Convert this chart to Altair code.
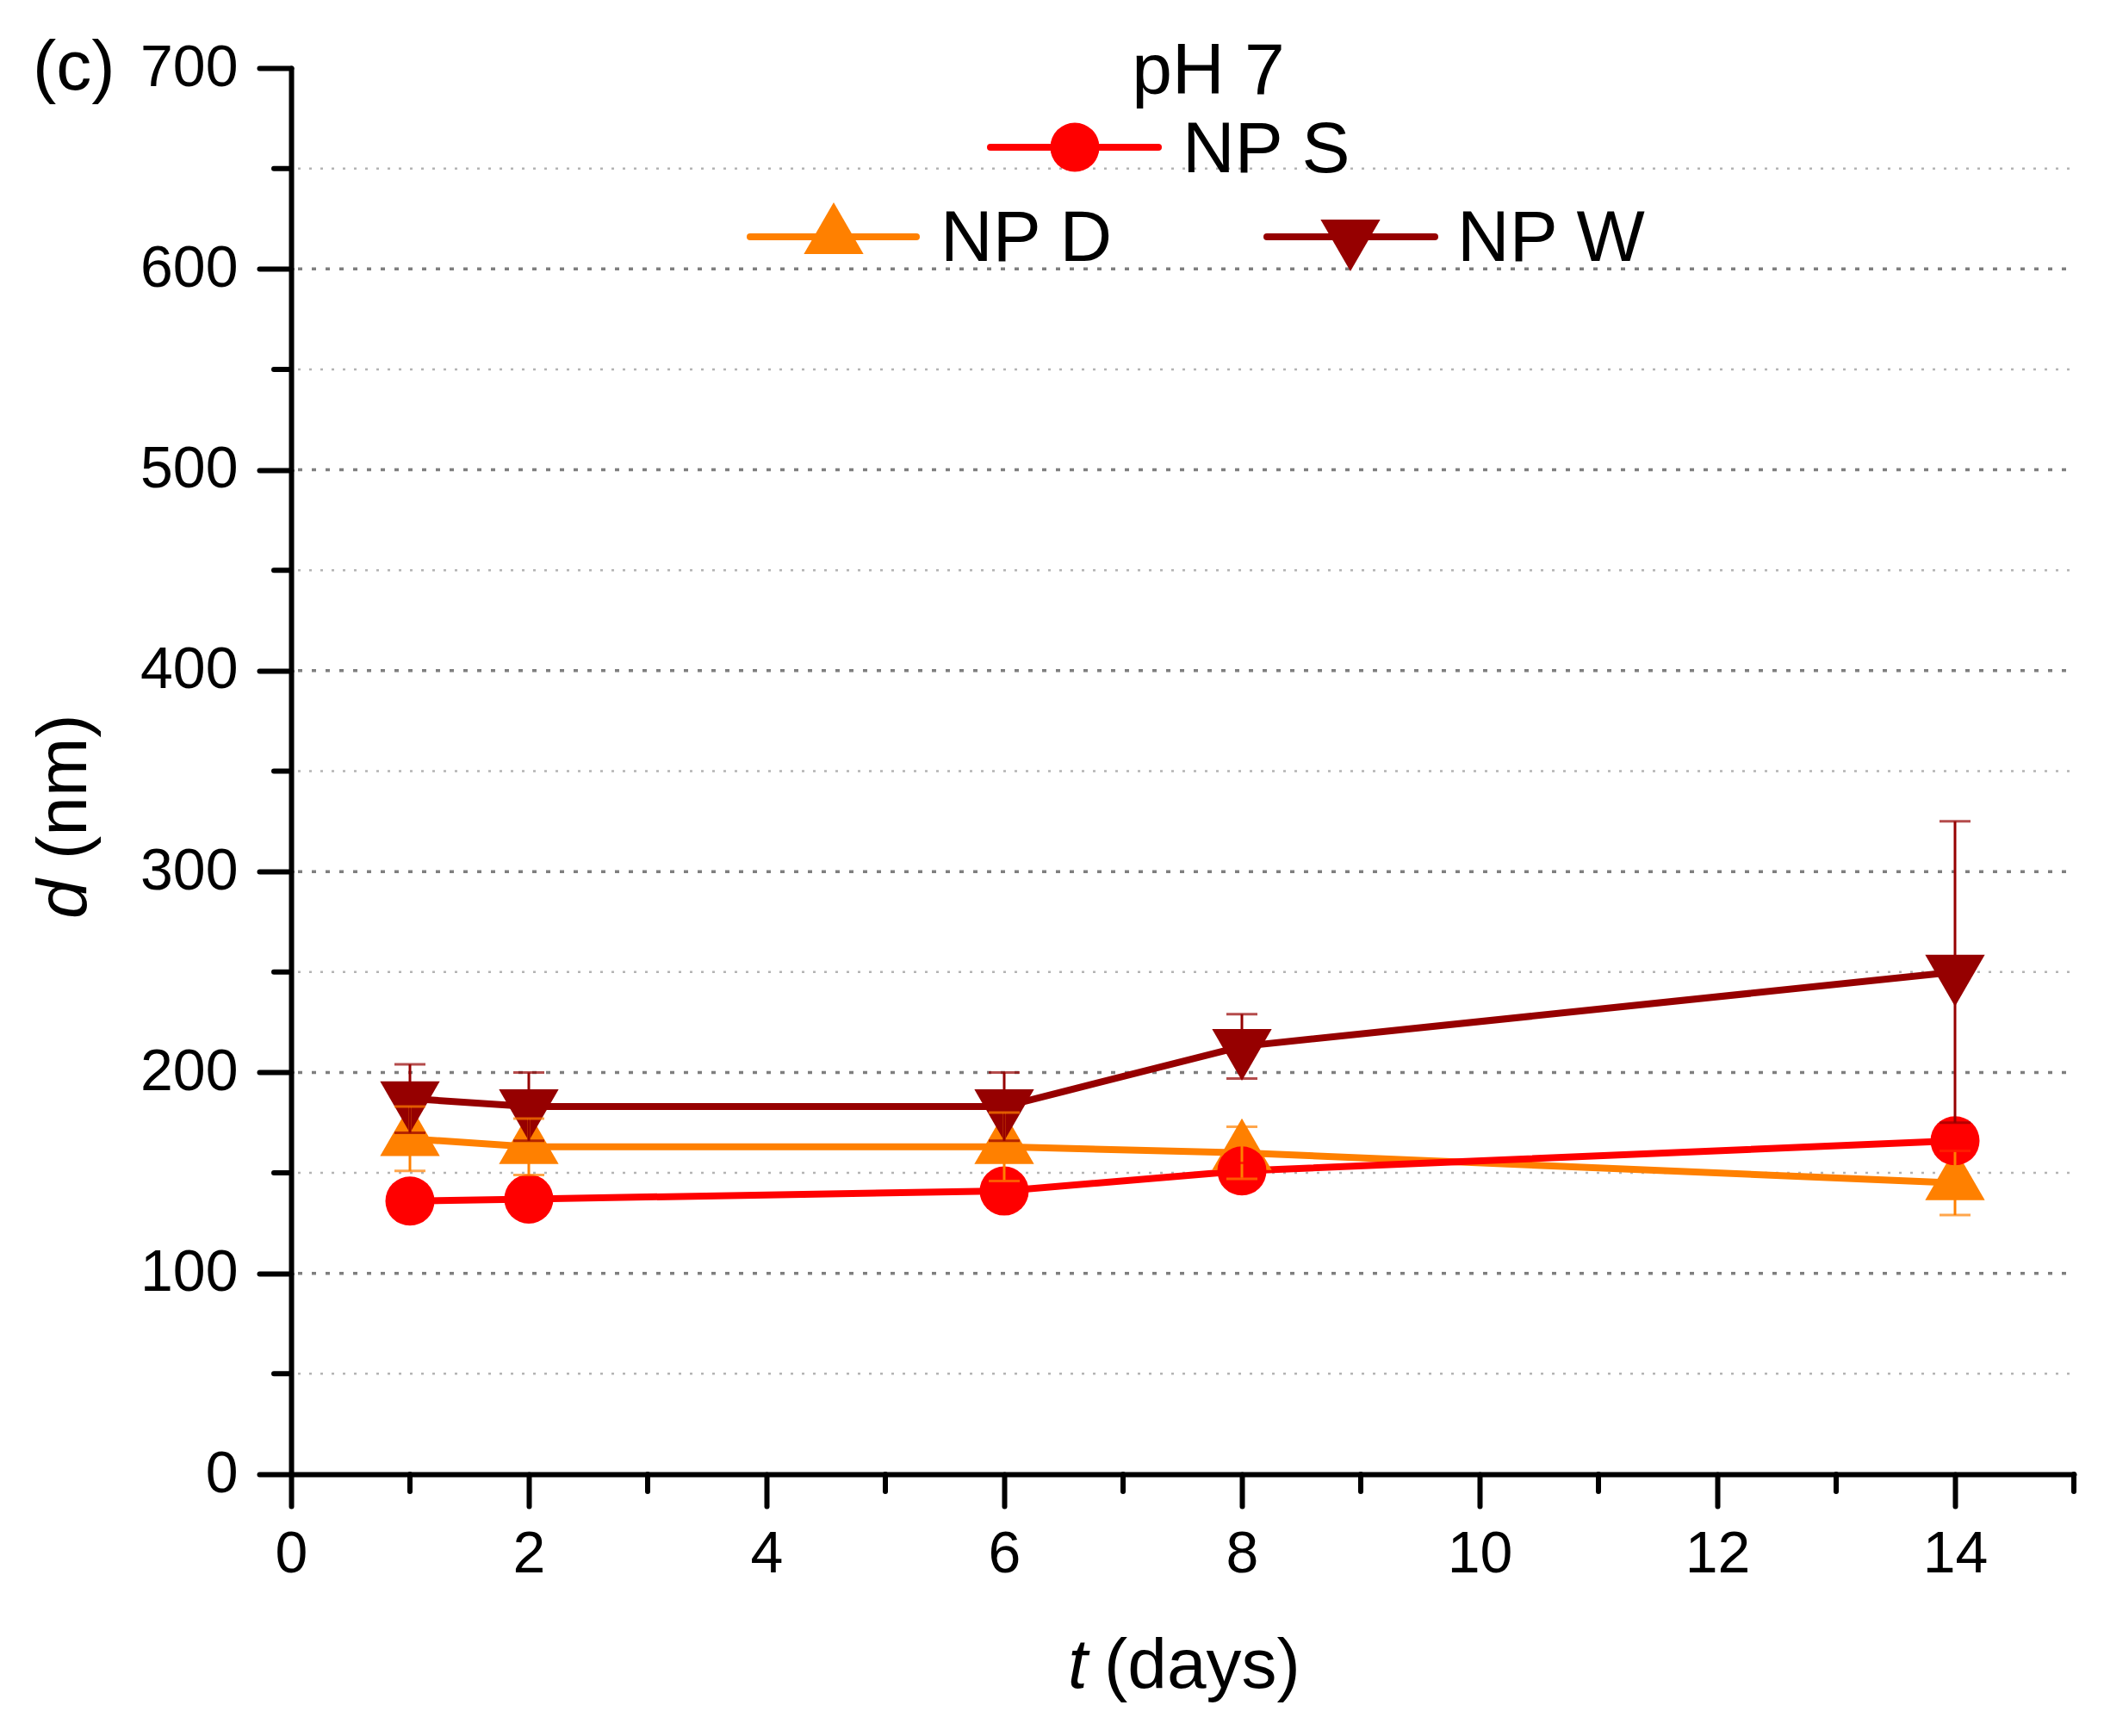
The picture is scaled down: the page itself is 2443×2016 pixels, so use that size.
import altair as alt
import pandas as pd

# ---------------- data ----------------
days = [1, 2, 6, 8, 14]
np_s = [136, 137, 141, 151, 166]
np_s_err = [4, 4, 5, 4, 5]
np_d = [167, 163, 163, 160, 145]
np_d_err = [16, 14, 17, 13, 16]
np_w = [187, 183, 183, 213, 250]
np_w_err = [17, 17, 17, 16, 75]

series_names = ["NP S", "NP D", "NP W"]
series_colors = ["#FF0000", "#FF8000", "#960000"]

x_major = [0, 2, 4, 6, 8, 10, 12, 14]
x_minor = [1, 3, 5, 7, 9, 11, 13, 15]
y_major = [0, 100, 200, 300, 400, 500, 600, 700]
y_minor = [50, 150, 250, 350, 450, 550, 650]
grid_major = [100, 200, 300, 400, 500, 600]
grid_minor = [50, 150, 250, 350, 450, 550, 650]

# ---------------- layout ----------------
W, H = 2070, 1633
FONT = "Liberation Sans"
TICK = 68
LEG = 84
TTL = 82

def series_df(name, vals, errs):
    return pd.DataFrame({
        "series": [name] * len(days),
        "day": days,
        "d": vals,
        "lo": [v - e for v, e in zip(vals, errs)],
        "hi": [v + e for v, e in zip(vals, errs)],
    })

df_s = series_df("NP S", np_s, np_s_err)
df_d = series_df("NP D", np_d, np_d_err)
df_w = series_df("NP W", np_w, np_w_err)
df_all = pd.concat([df_s, df_d, df_w], ignore_index=True)

xscale = alt.Scale(domain=[0, 15], nice=False, zero=False)
yscale = alt.Scale(domain=[0, 700], nice=False)

x_axis = alt.Axis(values=x_major, format="d", title=None, grid=False,
                  tickSize=37, tickWidth=6, tickColor="black", tickCap="round",
                  domainWidth=6, domainColor="black", domainCap="round",
                  labelFont=FONT, labelFontSize=TICK, labelColor="black",
                  labelPadding=22, labelFlush=False, labelOverlap=False)
y_axis = alt.Axis(values=y_major, format="d", title=None, grid=False,
                  tickSize=37, tickWidth=6, tickColor="black", tickCap="round",
                  domainWidth=6, domainColor="black", domainCap="round",
                  labelFont=FONT, labelFontSize=TICK, labelColor="black",
                  labelPadding=25, labelFlush=False, labelOverlap=False)

def X(field):
    return alt.X(field, type="quantitative", scale=xscale, axis=x_axis)

def Y(field):
    return alt.Y(field, type="quantitative", scale=yscale, axis=y_axis)

color = alt.Color("series:N", scale=alt.Scale(domain=series_names, range=series_colors), legend=None)

# grid lines
gmaj = alt.Chart(pd.DataFrame({"g": grid_major})).mark_rule(
    color="#7f7f7f", strokeWidth=3.5, strokeDash=[5, 11]
).encode(y=Y("g"), x=alt.value(8), x2=alt.value(W))
gmin = alt.Chart(pd.DataFrame({"g": grid_minor})).mark_rule(
    color="#b4b4b4", strokeWidth=2.5, strokeDash=[3, 10]
).encode(y=Y("g"), x=alt.value(8), x2=alt.value(W))

# minor ticks
xmin_t = alt.Chart(pd.DataFrame({"t": x_minor})).mark_rule(
    color="black", strokeWidth=6, strokeCap="round"
).encode(x=X("t"), y=alt.value(H), y2=alt.value(H + 20))
ymin_t = alt.Chart(pd.DataFrame({"t": y_minor})).mark_rule(
    color="black", strokeWidth=6, strokeCap="round"
).encode(y=Y("t"), x=alt.value(-20), x2=alt.value(0))

def line(df):
    return alt.Chart(df).mark_line(strokeWidth=8).encode(x=X("day"), y=Y("d"), color=color)

def marker(df, shape, size, yoff):
    return alt.Chart(df).mark_point(shape=shape, filled=True, opacity=1, size=size,
                                    strokeWidth=0, yOffset=yoff).encode(
        x=X("day"), y=Y("d"), color=color)

SZ_C = 3250
SZ_T = 4800

err = alt.Chart(df_all).mark_rule(strokeWidth=3).encode(x=X("day"), y=Y("lo"), y2="hi", color=color)
cap_hi = alt.Chart(df_all).mark_tick(orient="horizontal", size=36, thickness=3).encode(
    x=X("day"), y=Y("hi"), color=color)
cap_lo = alt.Chart(df_all).mark_tick(orient="horizontal", size=36, thickness=3).encode(
    x=X("day"), y=Y("lo"), color=color)

one = pd.DataFrame({"k": [0]})

def txt(text, x, y, size, align="left", style="normal", angle=0):
    return alt.Chart(one).mark_text(text=text, font=FONT, fontSize=size, fontStyle=style,
                                    align=align, baseline="alphabetic", angle=angle,
                                    color="black").encode(x=alt.value(x), y=alt.value(y))

def leg_line(x1, x2, y, col):
    return alt.Chart(one).mark_rule(color=col, strokeWidth=8, strokeCap="round").encode(
        x=alt.value(x1), x2=alt.value(x2), y=alt.value(y))

def leg_mark(x, y, shape, size, col, yoff):
    return alt.Chart(one).mark_point(shape=shape, filled=True, opacity=1, size=size,
                                     strokeWidth=0, color=col, yOffset=yoff).encode(
        x=alt.value(x), y=alt.value(y))

layers = [
    gmin, gmaj,
    line(df_d), line(df_s), line(df_w),
    marker(df_d, "triangle-up", SZ_T, -10),
    marker(df_s, "circle", SZ_C, 0),
    marker(df_w, "triangle-down", SZ_T, 10),
    err, cap_hi, cap_lo,
    xmin_t, ymin_t,
    # legend
    txt("pH 7", 1065, 30, LEG, align="center"),
    leg_line(812, 1007, 92, series_colors[0]),
    leg_mark(910, 92, "circle", SZ_C, series_colors[0], 0),
    txt("NP S", 1035, 121, LEG),
    leg_line(533, 726, 196, series_colors[1]),
    leg_mark(630, 196, "triangle-up", SZ_T, series_colors[1], -10),
    txt("NP D", 754, 224, LEG),
    leg_line(1133, 1328, 196, series_colors[2]),
    leg_mark(1230, 196, "triangle-down", SZ_T, series_colors[2], 10),
    txt("NP W", 1354, 224, LEG),
    # panel label and axis titles
    txt("(c)", -300, 25, TTL),
    txt("t", 902, 1881, TTL, style="italic"),
    txt("(days)", 944, 1881, TTL),
    txt("d", -238, 988, TTL, style="italic", angle=270),
    txt("(nm)", -238, 919, TTL, angle=270),
]

chart = alt.layer(*layers).properties(
    width=W, height=H,
    autosize=alt.AutoSizeParams(type="none"),
    padding={"left": 330, "top": 71, "right": 27, "bottom": 296},
    background="white",
).configure_view(stroke=None)

chart.save("out.html", embed_options={"renderer": "svg", "actions": False})
